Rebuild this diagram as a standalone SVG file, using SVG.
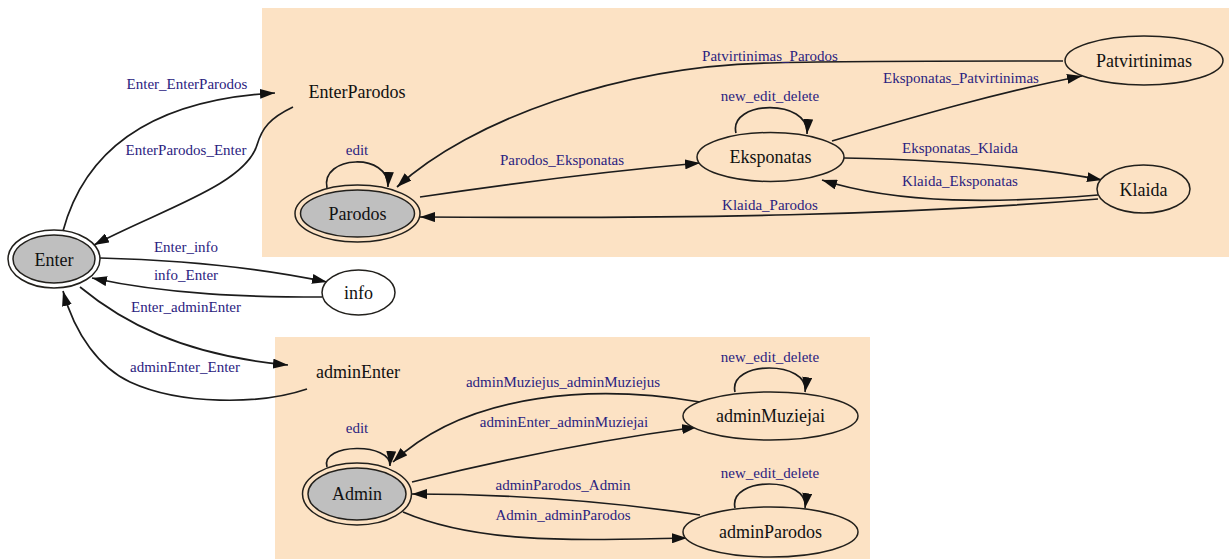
<svg xmlns="http://www.w3.org/2000/svg" width="1231" height="559" viewBox="0 0 1231 559">
  <style>
    .cluster { fill: #fce2c4; stroke: none; }
    .node { fill: #fce2c4; stroke: #22201c; stroke-width: 1.5; }
    .plain { fill: #ffffff; stroke: #22201c; stroke-width: 1.5; }
    .ring { fill: none; stroke: #22201c; stroke-width: 1.5; }
    .start { fill: #bfbfbf; stroke: #22201c; stroke-width: 1.5; }
    .nlabel { font-size: 18px; fill: #111111; text-anchor: middle; }
    .elabel { font-size: 15px; fill: #2b2280; text-anchor: middle; }
    .edge { fill: none; stroke: #1c1c1c; stroke-width: 1.7; marker-end: url(#arrow); }
  </style>
  <defs>
    <marker id="arrow" viewBox="0 0 15 10" refX="15" refY="5" markerWidth="15" markerHeight="10" markerUnits="userSpaceOnUse" orient="auto">
      <path d="M0,0 L15,5 L0,10 z" fill="#111111"/>
    </marker>
  </defs>

  <rect width="1231" height="559" fill="#ffffff"/>

  <!-- clusters -->
  <rect id="cluster_parodos" class="cluster" x="262" y="8" width="967" height="249"/>
  <rect id="cluster_admin" class="cluster" x="275" y="337" width="595" height="222"/>

  <!-- connectors -->
  <g id="edges">
    <path class="edge" d="M63,231 C85,150 150,100 275,93"/>
    <path class="edge" d="M293,107 C270,118 262,128 257,145 C245,185 160,210 94,245"/>
    <path class="edge" d="M327,188 C320,155 390,152 388,187"/>
    <path class="edge" d="M420,197 C500,185 600,172 700,163"/>
    <path class="edge" d="M1098,199 C900,215 700,219 420,217"/>
    <path class="edge" d="M1063,61 C900,61 800,62 770,63 C620,66 470,120 397,187"/>
    <path class="edge" d="M736,133 C728,100 810,98 807,134"/>
    <path class="edge" d="M832,141 C920,115 1000,92 1082,76"/>
    <path class="edge" d="M844,158 C950,160 1040,168 1102,180"/>
    <path class="edge" d="M1098,195 C1000,203 900,205 822,180"/>
    <path class="edge" d="M100,258 C180,260 260,268 327,282"/>
    <path class="edge" d="M322,297 C250,297 170,295 92,278"/>
    <path class="edge" d="M80,287 C120,320 180,355 288,365"/>
    <path class="edge" d="M307,389 C260,405 180,405 130,382 C100,368 75,335 63,291"/>
    <path class="edge" d="M327,467 C320,443 392,442 390,466"/>
    <path class="edge" d="M700,402 C600,385 470,390 393,462"/>
    <path class="edge" d="M412,482 C500,460 600,440 697,427"/>
    <path class="edge" d="M700,515 C600,500 500,494 412,494"/>
    <path class="edge" d="M403,512 C480,545 580,540 687,538"/>
    <path class="edge" d="M735,392 C728,360 810,360 805,392"/>
    <path class="edge" d="M735,508 C728,476 810,476 805,508"/>
  </g>

  <!-- connector labels -->
  <g id="edge-labels" font-family="Liberation Serif, DejaVu Serif, serif">
    <text class="elabel" x="187" y="89">Enter_EnterParodos</text>
    <text class="elabel" x="186" y="155">EnterParodos_Enter</text>
    <text class="elabel" x="186" y="252">Enter_info</text>
    <text class="elabel" x="186" y="280">info_Enter</text>
    <text class="elabel" x="186" y="312">Enter_adminEnter</text>
    <text class="elabel" x="185" y="372">adminEnter_Enter</text>
    <text class="elabel" x="357" y="155">edit</text>
    <text class="elabel" x="562" y="165">Parodos_Eksponatas</text>
    <text class="elabel" x="770" y="61">Patvirtinimas_Parodos</text>
    <text class="elabel" x="770" y="101">new_edit_delete</text>
    <text class="elabel" x="961" y="83">Eksponatas_Patvirtinimas</text>
    <text class="elabel" x="960" y="153">Eksponatas_Klaida</text>
    <text class="elabel" x="960" y="186">Klaida_Eksponatas</text>
    <text class="elabel" x="770" y="210">Klaida_Parodos</text>
    <text class="elabel" x="357" y="433">edit</text>
    <text class="elabel" x="563" y="387">adminMuziejus_adminMuziejus</text>
    <text class="elabel" x="564" y="427">adminEnter_adminMuziejai</text>
    <text class="elabel" x="563" y="490">adminParodos_Admin</text>
    <text class="elabel" x="563" y="520">Admin_adminParodos</text>
    <text class="elabel" x="770" y="362">new_edit_delete</text>
    <text class="elabel" x="770" y="478">new_edit_delete</text>
  </g>

  <!-- nodes -->
  <g id="nodes" font-family="Liberation Serif, DejaVu Serif, serif">
    <g id="node-Enter">
      <ellipse class="ring" cx="54" cy="259" rx="46" ry="29"/>
      <ellipse class="start" cx="54" cy="259" rx="41" ry="24"/>
      <text class="nlabel" x="54" y="266">Enter</text>
    </g>
    <g id="node-EnterParodos">
      <text class="nlabel" x="357" y="98">EnterParodos</text>
    </g>
    <g id="node-Parodos">
      <ellipse class="ring" cx="357.5" cy="213.5" rx="62.5" ry="28.5"/>
      <ellipse class="start" cx="357.5" cy="213.5" rx="57" ry="23.5"/>
      <text class="nlabel" x="357.5" y="220">Parodos</text>
    </g>
    <g id="node-Eksponatas">
      <ellipse class="node" cx="770.5" cy="157" rx="73.5" ry="24.5"/>
      <text class="nlabel" x="770.5" y="163">Eksponatas</text>
    </g>
    <g id="node-Patvirtinimas">
      <ellipse class="node" cx="1144" cy="60.5" rx="79" ry="24.5"/>
      <text class="nlabel" x="1144" y="67">Patvirtinimas</text>
    </g>
    <g id="node-Klaida">
      <ellipse class="node" cx="1143.5" cy="189" rx="46.5" ry="24"/>
      <text class="nlabel" x="1143.5" y="195.5">Klaida</text>
    </g>
    <g id="node-info">
      <ellipse class="plain" cx="358.5" cy="292.5" rx="36.5" ry="22.5"/>
      <text class="nlabel" x="358.5" y="298.5">info</text>
    </g>
    <g id="node-adminEnter">
      <text class="nlabel" x="358" y="378">adminEnter</text>
    </g>
    <g id="node-Admin">
      <ellipse class="ring" cx="357" cy="494" rx="54.5" ry="31"/>
      <ellipse class="start" cx="357" cy="494" rx="49" ry="26"/>
      <text class="nlabel" x="357" y="500">Admin</text>
    </g>
    <g id="node-adminMuziejai">
      <ellipse class="node" cx="770.5" cy="416" rx="87.5" ry="24"/>
      <text class="nlabel" x="770.5" y="422">adminMuziejai</text>
    </g>
    <g id="node-adminParodos">
      <ellipse class="node" cx="770.5" cy="532" rx="87.5" ry="25"/>
      <text class="nlabel" x="770.5" y="538">adminParodos</text>
    </g>
  </g>
</svg>
